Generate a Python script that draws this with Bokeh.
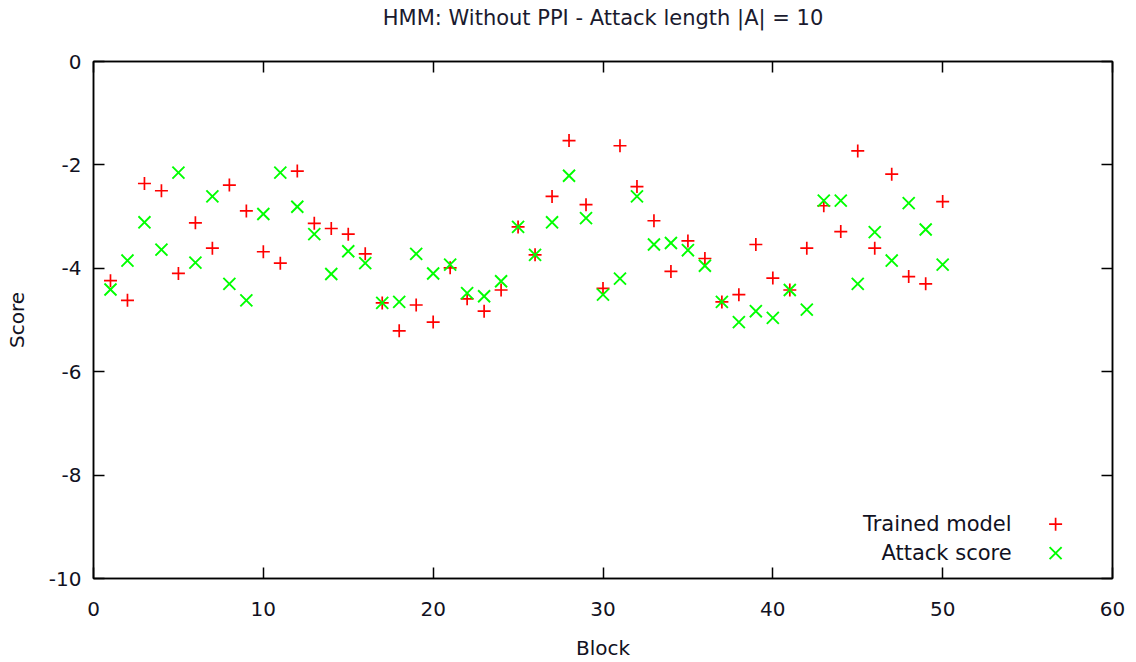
from bokeh.plotting import figure
from bokeh.models import LinearAxis, FixedTicker, Range1d, Label
from bokeh.embed import file_html
from bokeh.resources import INLINE

blocks = list(range(1, 51))
trained_model = [-4.24, -4.62, -2.36, -2.50, -4.10, -3.12, -3.61, -2.39, -2.89, -3.68,
                 -3.90, -2.12, -3.13, -3.23, -3.34, -3.72, -4.67, -5.21, -4.71, -5.04,
                 -3.99, -4.59, -4.83, -4.42, -3.20, -3.74, -2.61, -1.53, -2.77, -4.39,
                 -1.63, -2.42, -3.08, -4.06, -3.47, -3.81, -4.65, -4.51, -3.54, -4.19,
                 -4.42, -3.61, -2.79, -3.29, -1.73, -3.61, -2.18, -4.16, -4.30, -2.71]
attack_score = [-4.41, -3.85, -3.11, -3.64, -2.15, -3.89, -2.61, -4.30, -4.62, -2.95,
                -2.15, -2.81, -3.34, -4.11, -3.67, -3.90, -4.67, -4.65, -3.72, -4.10,
                -3.93, -4.48, -4.54, -4.25, -3.20, -3.74, -3.11, -2.21, -3.03, -4.51,
                -4.20, -2.61, -3.54, -3.51, -3.65, -3.95, -4.65, -5.04, -4.83, -4.96,
                -4.42, -4.80, -2.69, -2.69, -4.30, -3.30, -3.85, -2.74, -3.25, -3.93]
x_ticks = [0, 10, 20, 30, 40, 50, 60]
y_ticks = [0, -2, -4, -6, -8, -10]
y_tick_labels = {t: ("%d" % t) for t in y_ticks}
series_names = ["Trained model", "Attack score"]

FONT = "DejaVu Sans"
FS = "20px"
RED = "#ff0000"
GREEN = "#00ff00"

p = figure(width=1136, height=662, output_backend="svg", toolbar_location=None,
           x_range=Range1d(0, 60), y_range=Range1d(-10, 0),
           title="HMM: Without PPI - Attack length |A| = 10",
           min_border_left=93, min_border_right=24, min_border_top=60, min_border_bottom=84)
p.xaxis.visible = False
p.yaxis.visible = False
p.grid.visible = False
p.outline_line_color = "black"
p.outline_line_width = 1.5
p.background_fill_color = "white"
p.border_fill_color = "white"

p.title.text_font = FONT
p.title.text_font_size = "21px"
p.title.text_font_style = "normal"
p.title.align = "center"
p.title.text_color = "#1a1a2e"
p.title.standoff = 6


def style_axis(ax, show_labels):
    ax.axis_line_color = "black"
    ax.axis_line_width = 1.5
    ax.major_tick_in = 11
    ax.major_tick_out = 0
    ax.major_tick_line_width = 1.5
    ax.major_tick_line_color = "black"
    ax.minor_tick_line_color = None
    ax.major_label_text_font = FONT
    ax.major_label_text_font_size = FS
    ax.major_label_text_color = "#111122"
    ax.axis_label_text_font = FONT
    ax.axis_label_text_font_size = FS
    ax.axis_label_text_font_style = "normal"
    ax.axis_label_text_color = "#111122"
    if not show_labels:
        ax.major_label_text_font_size = "0px"
        ax.major_label_standoff = 0


xb = LinearAxis(ticker=FixedTicker(ticks=x_ticks), axis_label="Block")
style_axis(xb, True)
xb.major_label_standoff = 23
xb.axis_label_standoff = 17
p.add_layout(xb, "below")

yl = LinearAxis(ticker=FixedTicker(ticks=y_ticks), axis_label="Score",
                major_label_overrides=y_tick_labels)
style_axis(yl, True)
yl.major_label_standoff = 12
yl.axis_label_standoff = 17
p.add_layout(yl, "left")

# mirrored top ticks; a blank axis label keeps the title clear of the frame
xt = LinearAxis(ticker=FixedTicker(ticks=x_ticks), axis_label=" ",
                major_label_overrides={t: "" for t in x_ticks})
style_axis(xt, False)
xt.axis_label_standoff = 2
p.add_layout(xt, "above")

yr = LinearAxis(ticker=FixedTicker(ticks=y_ticks),
                major_label_overrides={t: "" for t in y_ticks})
style_axis(yr, False)
p.add_layout(yr, "right")

p.scatter(blocks, trained_model, marker="cross", size=13, line_color=RED, line_width=1.7)
p.scatter(blocks, attack_score, marker="x", size=17, line_color=GREEN, line_width=1.9)

# legend (gnuplot style: label on the left, sample on the right)
LEG_TEXT_X = 54.06
LEG_MARK_X = 56.65
LEG_Y = [-8.95, -9.51]
for name, yy in zip(series_names, LEG_Y):
    p.add_layout(Label(x=LEG_TEXT_X, y=yy, text=name, text_align="right",
                       text_baseline="middle", text_font=FONT, text_font_size="21px",
                       text_color="#111122"))
p.scatter([LEG_MARK_X], [LEG_Y[0]], marker="cross", size=13, line_color=RED, line_width=1.7)
p.scatter([LEG_MARK_X], [LEG_Y[1]], marker="x", size=17, line_color=GREEN, line_width=1.9)

open("out.html", "w").write(file_html(p, INLINE))
